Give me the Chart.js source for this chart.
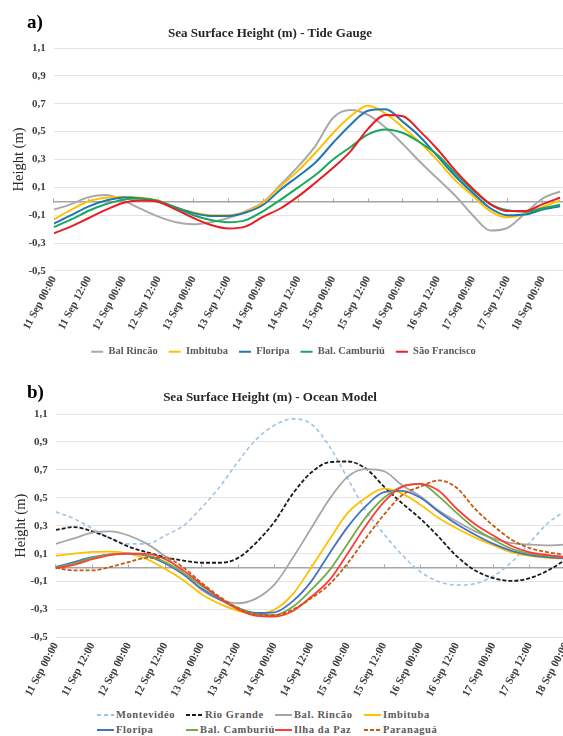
<!DOCTYPE html>
<html>
<head>
<meta charset="utf-8">
<script src="https://cdn.jsdelivr.net/npm/chart.js@4.4.1/dist/chart.umd.min.js"></script>
<style>
  body { margin: 0; background: #fff; width: 563px; height: 736px; overflow: hidden; position: relative; font-family: "Liberation Serif", serif; }
  .panel { position: absolute; left: 0; }
  #boxA { top: 0; width: 563px; height: 367px; }
  #boxB { top: 372px; width: 581px; height: 330px; }
  .tag { position: absolute; left: 27px; font: bold 19px/19px "Liberation Serif"; color: #000; }
  .title { position: absolute; left: 0; width: 540px; text-align: center; font: bold 13px/15px "Liberation Serif"; color: #262626; }
  #legendB { position: absolute; left: 97px; top: 707px; display: grid; grid-template-columns: repeat(4, 89px); }
  #legendB .item { display: flex; align-items: center; height: 15px; font: bold 10.5px "Liberation Serif"; color: #595959; letter-spacing: 0.6px; white-space: nowrap; }
  #legendB svg { margin-right: 2px; }
</style>
</head>
<body>
<div class="panel" id="boxA"><canvas id="chartA"></canvas></div>
<div class="panel" id="boxB"><canvas id="chartB"></canvas></div>
<div class="tag" style="top:12px">a)</div>
<div class="tag" style="top:382px">b)</div>
<div class="title" style="top:25px">Sea Surface Height (m) - Tide Gauge</div>
<div class="title" style="top:389px">Sea Surface Height (m) - Ocean Model</div>
<div id="legendB"></div>

<script>
const FONT = 'Liberation Serif';

// x values are hours after 11 Sep 00:00
const tickHours = [0, 12, 24, 36, 48, 60, 72, 84, 96, 108, 120, 132, 144, 156, 168];
const tickLabels = ['11 Sep 00:00', '11 Sep 12:00', '12 Sep 00:00', '12 Sep 12:00', '13 Sep 00:00',
  '13 Sep 12:00', '14 Sep 00:00', '14 Sep 12:00', '15 Sep 00:00', '15 Sep 12:00', '16 Sep 00:00',
  '16 Sep 12:00', '17 Sep 00:00', '17 Sep 12:00', '18 Sep 00:00'];
const yTicks = [-0.5, -0.3, -0.1, 0.1, 0.3, 0.5, 0.7, 0.9, 1.1];

// a) tide gauge
const hoursA = [0, 6, 12, 18, 24, 30, 36, 42, 48, 54, 60, 66, 72, 78, 84, 90, 96, 102, 108, 114,
  120, 126, 132, 138, 144, 150, 156, 162, 168, 174];
const balRincaoA = [-0.06, -0.02, 0.03, 0.045, 0.005, -0.055, -0.11, -0.15, -0.165, -0.15, -0.12, -0.07, -0.005, 0.12,
  0.25, 0.40, 0.60, 0.655, 0.62, 0.53, 0.41, 0.28, 0.16, 0.04, -0.10, -0.21, -0.19, -0.085, 0.02, 0.07];
const imbitubaA = [-0.13, -0.06, 0.0, 0.025, 0.033, 0.025, 0.005, -0.045, -0.08, -0.10, -0.10, -0.075, -0.01, 0.11,
  0.22, 0.35, 0.49, 0.61, 0.685, 0.63, 0.53, 0.42, 0.29, 0.15, 0.04, -0.07, -0.115, -0.09, -0.04, 0.005];
const floripaA = [-0.16, -0.10, -0.036, 0.005, 0.028, 0.02, 0.0, -0.045, -0.085, -0.105, -0.105, -0.08, -0.025, 0.085,
  0.18, 0.28, 0.42, 0.55, 0.65, 0.66, 0.57, 0.46, 0.32, 0.18, 0.06, -0.05, -0.10, -0.095, -0.06, -0.035];
const camboriuA = [-0.185, -0.13, -0.068, -0.02, 0.012, 0.02, 0.0, -0.05, -0.10, -0.135, -0.15, -0.135, -0.07, 0.012,
  0.10, 0.19, 0.30, 0.39, 0.48, 0.515, 0.49, 0.42, 0.33, 0.20, 0.08, -0.02, -0.065, -0.075, -0.05, -0.025];
const saoFranciscoA = [-0.23, -0.18, -0.12, -0.06, -0.01, 0.005, -0.005, -0.06, -0.12, -0.17, -0.195, -0.18, -0.11, -0.05,
  0.035, 0.135, 0.24, 0.36, 0.52, 0.62, 0.61, 0.50, 0.37, 0.22, 0.09, -0.02, -0.07, -0.07, -0.02, 0.025];

const namesA = ['Bal Rincão', 'Imbituba', 'Floripa', 'Bal. Camburiú', 'São Francisco'];
const seriesA = [balRincaoA, imbitubaA, floripaA, camboriuA, saoFranciscoA];
const colorsA = ['#A9A9A9', '#FFC000', '#1F77B4', '#17A85C', '#EC1C24'];

// b) ocean model
const hoursB = [0, 6, 12, 18, 24, 30, 36, 42, 48, 54, 60, 66, 72, 78, 84, 90, 96, 102, 108, 114,
  120, 126, 132, 138, 144, 150, 156, 162, 168];
const montevideoB = [0.40, 0.35, 0.28, 0.21, 0.17, 0.17, 0.23, 0.30, 0.43, 0.58, 0.76, 0.92, 1.02, 1.065, 1.03,
  0.87, 0.64, 0.41, 0.24, 0.09, -0.03, -0.10, -0.125, -0.115, -0.06, 0.04, 0.18, 0.32, 0.41];
const rioGrandeB = [0.27, 0.29, 0.26, 0.21, 0.15, 0.11, 0.075, 0.05, 0.035, 0.035, 0.07, 0.18, 0.33, 0.53, 0.68,
  0.755, 0.76, 0.71, 0.58, 0.46, 0.35, 0.22, 0.08, -0.02, -0.075, -0.095, -0.075, -0.02, 0.06];
const balRincaoB = [0.17, 0.21, 0.25, 0.26, 0.23, 0.17, 0.08, -0.04, -0.16, -0.23, -0.255, -0.22, -0.12, 0.07, 0.28,
  0.49, 0.65, 0.705, 0.69, 0.59, 0.51, 0.41, 0.33, 0.26, 0.21, 0.175, 0.165, 0.16, 0.165];
const imbitubaB = [0.085, 0.10, 0.113, 0.115, 0.10, 0.06, -0.01, -0.09, -0.19, -0.26, -0.31, -0.33, -0.30, -0.19, 0.0,
  0.20, 0.39, 0.50, 0.565, 0.53, 0.45, 0.355, 0.28, 0.215, 0.16, 0.11, 0.085, 0.07, 0.065];
const floripaB = [0.005, 0.04, 0.075, 0.095, 0.10, 0.085, 0.03, -0.05, -0.15, -0.23, -0.29, -0.325, -0.32, -0.24, -0.10,
  0.10, 0.29, 0.44, 0.54, 0.55, 0.50, 0.40, 0.31, 0.235, 0.17, 0.12, 0.09, 0.075, 0.065];
const camboriuB = [0.0, 0.03, 0.07, 0.095, 0.10, 0.09, 0.04, -0.04, -0.13, -0.22, -0.29, -0.335, -0.34, -0.28, -0.16,
  -0.02, 0.17, 0.36, 0.50, 0.58, 0.60, 0.51, 0.39, 0.28, 0.20, 0.135, 0.10, 0.085, 0.075];
const ilhaDaPazB = [-0.005, 0.02, 0.06, 0.09, 0.10, 0.10, 0.06, -0.02, -0.12, -0.22, -0.30, -0.345, -0.35, -0.31, -0.21,
  -0.09, 0.10, 0.30, 0.47, 0.58, 0.60, 0.55, 0.42, 0.31, 0.23, 0.155, 0.11, 0.09, 0.075];
const paranaguaB = [0.0, -0.02, -0.02, 0.005, 0.04, 0.07, 0.07, 0.0, -0.11, -0.21, -0.29, -0.335, -0.34, -0.30, -0.22,
  -0.12, 0.03, 0.21, 0.38, 0.52, 0.58, 0.625, 0.57, 0.42, 0.30, 0.20, 0.14, 0.11, 0.09];

const namesB = ['Montevidéo', 'Rio Grande', 'Bal. Rincão', 'Imbituba', 'Floripa', 'Bal. Camburiú', 'Ilha da Paz', 'Paranaguá'];
const seriesB = [montevideoB, rioGrandeB, balRincaoB, imbitubaB, floripaB, camboriuB, ilhaDaPazB, paranaguaB];
const colorsB = ['#9DC3E6', '#1A1A1A', '#A5A5A5', '#FFC000', '#4472C4', '#70AD47', '#FF3B3B', '#C55A11'];
const dashB = [[4, 3], [4, 2], [], [], [], [], [], [4, 2]];

function makeDatasets(names, series, hours, colors, dashes, width) {
  return names.map((name, i) => ({
    label: name,
    data: series[i].map((v, k) => ({ x: hours[k], y: v })),
    borderColor: colors[i],
    backgroundColor: colors[i],
    borderWidth: dashes && dashes[i].length && i === 0 ? 1.6 : width,
    borderDash: dashes ? dashes[i] : [],
    pointRadius: 0,
    cubicInterpolationMode: 'monotone',
    fill: false,
    order: names.length - i   // later series drawn on top, like the original
  }));
}

function makeScales(xMax) {
  return {
    x: {
      type: 'linear', min: 0, max: xMax,
      afterBuildTicks: s => { s.ticks = tickHours.map(v => ({ value: v })); },
      grid: { display: false, drawTicks: false },
      border: { display: false },
      ticks: {
        autoSkip: false, minRotation: 62, maxRotation: 62, padding: 3, color: '#404040',
        font: { family: FONT, size: 11, weight: 'bold' },
        callback: (v, i) => tickLabels[i]
      }
    },
    // zero line with small tick marks
    x0: {
      type: 'linear', axis: 'x', min: 0, max: xMax, position: { y: 0 },
      afterBuildTicks: s => { s.ticks = tickHours.map(v => ({ value: v })); },
      grid: { drawOnChartArea: false, tickLength: -4, color: '#A6A6A6', lineWidth: 1 },
      border: { color: '#A6A6A6', width: 1.5 },
      ticks: { display: false }
    },
    y: {
      min: -0.5, max: 1.1,
      afterBuildTicks: s => { s.ticks = yTicks.map(v => ({ value: v })); },
      grid: { color: '#E4E4E4', drawTicks: false },
      border: { display: false },
      ticks: {
        padding: 8, color: '#404040',
        font: { family: FONT, size: 11, weight: 'bold' },
        callback: v => v.toFixed(1).replace('.', ',')
      },
      title: {
        display: true, text: 'Height (m)', color: '#262626',
        font: { family: FONT, size: 14.5 }, padding: { top: 6, bottom: -7 }
      }
    }
  };
}

new Chart(document.getElementById('chartA'), {
  type: 'line',
  data: { datasets: makeDatasets(namesA, seriesA, hoursA, colorsA, null, 2) },
  options: {
    responsive: true, maintainAspectRatio: false, animation: false,
    layout: { padding: { top: 48, left: 4, right: 0, bottom: 0 } },
    scales: makeScales(175),
    plugins: {
      title: { display: false },
      tooltip: { enabled: false },
      legend: {
        position: 'bottom',
        labels: {
          usePointStyle: true, pointStyle: 'line', pointStyleWidth: 12, padding: 11,
          color: '#595959', font: { family: FONT, size: 10.5, weight: 'bold' },
          sort: (a, b) => a.datasetIndex - b.datasetIndex
        }
      }
    }
  }
});

new Chart(document.getElementById('chartB'), {
  type: 'line',
  data: { datasets: makeDatasets(namesB, seriesB, hoursB, colorsB, dashB, 1.8) },
  options: {
    responsive: true, maintainAspectRatio: false, animation: false,
    layout: { padding: { top: 42, left: 6, right: 0, bottom: 0 } },
    scales: makeScales(168),
    plugins: {
      title: { display: false },
      tooltip: { enabled: false },
      legend: { display: false }
    }
  }
});

// legend for b) laid out in four columns like the original
const legendB = document.getElementById('legendB');
namesB.forEach((name, i) => {
  const item = document.createElement('div');
  item.className = 'item';
  const dash = dashB[i].length ? 'stroke-dasharray="' + dashB[i].join(' ') + '"' : '';
  item.innerHTML = '<svg width="17" height="6"><line x1="0" y1="3" x2="17" y2="3" stroke="' + colorsB[i] +
    '" stroke-width="2" ' + dash + '/></svg><span>' + name + '</span>';
  legendB.appendChild(item);
});
</script>
</body>
</html>
